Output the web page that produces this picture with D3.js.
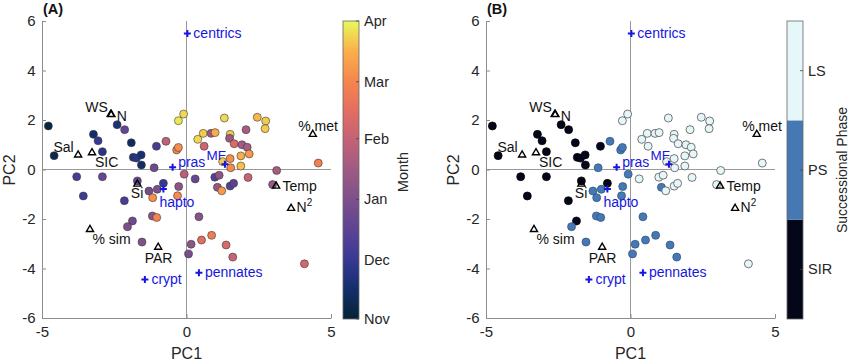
<!DOCTYPE html>
<html lang="en">
<head>
<meta charset="UTF-8">
<title>PCA biplot: month and successional phase</title>
<script src="https://d3js.org/d3.v7.min.js"></script>
<style>
  body { margin: 0; background: #fff; }
  svg { display: block; font-family: "Liberation Sans", Arial, Helvetica, sans-serif; }
  .axis .tick text { font-size: 15px; fill: #262626; }
  .axis path, .axis line { stroke: #8c8c8c; }
</style>
</head>
<body>
<div id="chart"></div>
<script>
// sample scores (PC1, PC2), sampling date and successional phase
const pc1 = [-4.78, -4.58, -3.22, -3.06, -2.91, -2.40, -2.14, -1.91, -1.84, -1.73,
             -1.57, -1.56, -1.04, -3.80, -2.91, -3.57, -2.15, -1.70, -0.80, -1.87,
             -0.71, -1.12, -0.34, -0.28, -0.08, -1.30, -1.01, -1.17, -0.27, -0.31,
             -2.04, -1.18, -1.03, -1.54, 0.43, 0.16, 0.07, 0.52, 0.87, 1.37,
             1.60, 1.07, -0.28, -0.10, 0.30, 0.39, 0.58, 0.85, 0.99, 0.61,
             1.31, 2.45, 2.74, 2.72, 2.06, 1.51, 1.49, 1.65, 1.92, 2.10,
             1.88, 2.17, 1.51, 1.25, 1.53, 1.88, 3.12, 4.56, 0.98, 1.13,
             1.22, 1.51, 1.63, 2.13, 2.98, 4.08];
const pc2 = [1.76, 0.56, 1.42, 1.16, 0.72, 1.81, 1.61, 1.08, 0.49, 0.46,
             0.59, 0.18, 0.94, -0.29, -0.29, -1.07, -1.26, -0.46, -0.56, -2.08,
             1.14, 0.07, 0.79, 0.89, -0.19, -0.87, -0.80, -1.14, -0.69, -1.06,
             -2.31, -1.88, -1.94, -2.93, -1.91, -3.02, -3.41, -2.85, -2.66, -3.05,
             -3.54, -0.72, 1.97, 2.24, -0.38, 1.22, 1.46, 1.46, 1.49, 0.94,
             2.08, 2.11, 1.96, 1.65, 1.61, 1.42, 1.26, 1.04, 1.00, 0.90,
             0.55, 0.63, 0.44, 0.32, 0.07, 0.14, -0.04, 0.26, -0.31, -0.23,
             -0.86, -0.67, -0.56, -0.32, -0.61, -3.81];
const sampleDate = ["2015-11-05", "2015-11-08", "2015-11-15", "2015-12-01", "2015-11-25", "2015-11-20", "2015-12-20", "2015-11-12", "2015-11-22", "2015-11-26",
                    "2015-11-18", "2015-11-14", "2015-12-08", "2015-12-08", "2015-12-20", "2015-12-05", "2015-12-08", "2015-12-22", "2015-12-01", "2015-12-25",
                    "2016-01-30", "2015-12-25", "2016-03-01", "2016-03-05", "2016-01-28", "2015-12-28", "2016-01-01", "2016-03-05", "2016-01-08", "2016-03-03",
                    "2016-01-01", "2016-01-08", "2016-03-01", "2016-01-03", "2016-01-06", "2016-01-08", "2015-12-30", "2016-02-15", "2016-02-25", "2016-02-10",
                    "2016-02-03", "2016-01-12", "2016-03-28", "2016-03-25", "2015-12-22", "2016-03-25", "2016-03-22", "2016-01-15", "2016-03-15", "2016-02-05",
                    "2016-03-25", "2016-03-18", "2016-03-22", "2016-03-22", "2016-01-20", "2016-03-22", "2016-01-14", "2016-02-12", "2016-01-18", "2016-01-20",
                    "2016-03-15", "2016-03-08", "2016-03-05", "2016-03-22", "2016-03-03", "2016-03-20", "2016-01-20", "2016-02-28", "2015-12-12", "2016-01-08",
                    "2016-03-08", "2015-12-12", "2015-12-15", "2016-02-03", "2016-01-14", "2016-02-08"];
const phase = ["SIR", "SIR", "SIR", "SIR", "SIR", "SIR", "SIR", "SIR", "SIR", "SIR",
               "SIR", "SIR", "SIR", "SIR", "SIR", "SIR", "SIR", "SIR", "SIR", "SIR",
               "PS", "PS", "PS", "PS", "PS", "PS", "PS", "PS", "PS", "PS",
               "PS", "PS", "PS", "PS", "PS", "PS", "PS", "PS", "PS", "PS",
               "PS", "PS", "LS", "LS", "LS", "LS", "LS", "LS", "LS", "LS",
               "LS", "LS", "LS", "LS", "LS", "LS", "LS", "LS", "LS", "LS",
               "LS", "LS", "LS", "LS", "LS", "LS", "LS", "LS", "LS", "LS",
               "LS", "LS", "LS", "LS", "LS", "LS"];

// environmental variables (triangles)
const varNames = ["WS", "N", "Sal", "SIC", "Si", "% sim", "PAR", "% met", "Temp", "N2"];
const varPC1 = [-2.62, -2.60, -3.75, -3.27, -1.70, -3.34, -0.98, 4.37, 3.10, 3.62];
const varPC2 = [2.23, 2.22, 0.59, 0.68, -0.59, -2.42, -3.14, 1.42, -0.67, -1.57];

// phytoplankton groups (blue crosses)
const sppNames = ["centrics", "pras", "MF", "hapto", "crypt", "pennates"];
const sppPC1 = [0.03, -0.48, 1.33, -0.80, -1.44, 0.43];
const sppPC2 = [5.50, 0.09, 0.21, -0.79, -4.44, -4.17];

// axis ticks and colorbar ticks
const xTicks = [-5, 0, 5];
const yTicks = [-6, -4, -2, 0, 2, 4, 6];
const monthTicks = ["2015-11-01", "2015-12-01", "2016-01-01", "2016-02-01", "2016-03-01", "2016-04-01"];
const monthLabels = ["Nov", "Dec", "Jan", "Feb", "Mar", "Apr"];
const phaseLabels = ["SIR", "PS", "LS"];

// label placement next to markers: [dx, dy, anchor]
const labelPos = {
  "WS": [-3, -2.5, "end"], "N": [5.5, 6.5, "start"], "Sal": [-4.5, -3.3, "end"],
  "SIC": [3, 14, "start"], "Si": [-6.5, 14.3, "start"], "% sim": [2.5, 14.7, "start"],
  "PAR": [-13.5, 15.4, "start"], "% met": [-14.5, -3.6, "start"], "Temp": [6.5, 4.8, "start"],
  "N2": [5.5, 3.4, "start"],
  "centrics": [6, 5, "start"], "pras": [5.5, 0, "start"], "MF": [-18.5, -4.3, "start"],
  "hapto": [-4, 18, "start"], "crypt": [6.5, 4.5, "start"], "pennates": [6, 4, "start"]
};

const parse = d3.timeParse("%Y-%m-%d");
const samples = pc1.map((v, i) => ({ x: v, y: pc2[i], date: parse(sampleDate[i]), phase: phase[i] }));
const vars = varNames.map((n, i) => ({ name: n, x: varPC1[i], y: varPC2[i] }));
const spp = sppNames.map((n, i) => ({ name: n, x: sppPC1[i], y: sppPC2[i] }));

// cmocean "thermal"-like colormap
const thermal = d3.piecewise(d3.interpolateRgb, ["#042333", "#142e6c", "#383894", "#5d4394", "#7d4f8c",
  "#9e5a84", "#c36276", "#e36e61", "#f6864d", "#fab04a", "#e8fa5b"]);
const monthT = d3.scaleTime().domain([parse(monthTicks[0]), parse(monthTicks[5])]).range([0, 1]).clamp(true);

const phaseFill = { SIR: "#04071a", PS: "#4679b4", LS: "#e6f7fa" };
const phaseStroke = { SIR: "#000", PS: "#2e4f78", LS: "#555" };

const W = 850, H = 362;
const plotTop = 21, plotBottom = 318, cbBottom = 319;
const blue = "#1616e0";

const svg = d3.select("#chart").append("svg").attr("width", W).attr("height", H);

const defs = svg.append("defs");
const grad = defs.append("linearGradient").attr("id", "thermalGrad")
  .attr("x1", 0).attr("y1", 1).attr("x2", 0).attr("y2", 0);
d3.range(0, 1.0001, 0.05).forEach(t => {
  grad.append("stop").attr("offset", t).attr("stop-color", thermal(t));
});

function drawPanel(p) {
  const g = svg.append("g");
  const x = d3.scaleLinear().domain([-5, 5]).range([p.left, p.left + 289]);
  const y = d3.scaleLinear().domain([-6, 6]).range([plotBottom, plotTop]);

  // zero lines
  g.append("line").attr("x1", x(-5)).attr("x2", x(5)).attr("y1", y(0)).attr("y2", y(0))
    .attr("stroke", "#999").attr("stroke-width", 1);
  g.append("line").attr("x1", x(0)).attr("x2", x(0)).attr("y1", y(-6)).attr("y2", y(6))
    .attr("stroke", "#999").attr("stroke-width", 1);

  const xAxis = g.append("g").attr("class", "axis")
    .attr("transform", `translate(0,${y(-6)})`)
    .call(d3.axisBottom(x).tickValues(xTicks).tickSizeInner(-4).tickSizeOuter(0).tickPadding(8).tickFormat(d => String(d)));
  const yAxis = g.append("g").attr("class", "axis")
    .attr("transform", `translate(${x(-5)},0)`)
    .call(d3.axisLeft(y).tickValues(yTicks).tickSizeInner(-4).tickSizeOuter(0).tickPadding(6.5).tickFormat(d => String(d)));
  [xAxis, yAxis].forEach(a => a.attr("font-family", null).attr("font-size", null));

  g.append("text").attr("x", x(0)).attr("y", 359).attr("text-anchor", "middle")
    .attr("font-size", 16).attr("fill", "#262626").text("PC1");
  g.append("text").attr("transform", `translate(${x(-5) - 27},170) rotate(-90)`)
    .attr("text-anchor", "middle").attr("font-size", 16).attr("fill", "#262626").text("PC2");
  g.append("text").attr("x", x(-5) + 1).attr("y", 14).attr("font-size", 14.5)
    .attr("font-weight", "bold").attr("fill", "#111").text(p.tag);

  // samples
  g.selectAll("circle.sample").data(samples).enter().append("circle")
    .attr("class", "sample")
    .attr("cx", d => x(d.x)).attr("cy", d => y(d.y)).attr("r", 4)
    .attr("fill", p.fill).attr("stroke", p.stroke).attr("stroke-width", p.sw);

  // environmental variables
  const tri = d3.symbol().type(d3.symbolTriangle).size(22);
  g.selectAll("path.var").data(vars).enter().append("path")
    .attr("class", "var").attr("d", tri)
    .attr("transform", d => `translate(${x(d.x)},${y(d.y)})`)
    .attr("fill", "none").attr("stroke", "#000").attr("stroke-width", 1.4);
  const vt = g.selectAll("text.var").data(vars).enter().append("text")
    .attr("class", "var")
    .attr("x", d => x(d.x) + labelPos[d.name][0])
    .attr("y", d => y(d.y) + labelPos[d.name][1])
    .attr("text-anchor", d => labelPos[d.name][2])
    .attr("font-size", 14).attr("fill", "#111")
    .style("white-space", "pre");
  vt.each(function(d) {
    const t = d3.select(this);
    if (d.name === "N2") {
      t.append("tspan").text("N");
      t.append("tspan").attr("dy", -6).attr("font-size", 10).text("2");
    } else {
      t.text(d.name);
    }
  });

  // phytoplankton groups
  g.selectAll("path.spp").data(spp).enter().append("path")
    .attr("class", "spp")
    .attr("d", "M-3.5,0H3.5M0,-3.5V3.5")
    .attr("transform", d => `translate(${x(d.x)},${y(d.y)})`)
    .attr("stroke", blue).attr("stroke-width", 2).attr("fill", "none");
  g.selectAll("text.spp").data(spp).enter().append("text")
    .attr("class", "spp")
    .attr("x", d => x(d.x) + labelPos[d.name][0])
    .attr("y", d => y(d.y) + labelPos[d.name][1])
    .attr("text-anchor", d => labelPos[d.name][2])
    .attr("font-size", d => d.name === "MF" ? 13.5 : 14).attr("fill", blue)
    .text(d => d.name);
}

drawPanel({ left: 42, tag: "(A)", fill: d => thermal(monthT(d.date)), stroke: "#3a3a3a", sw: 0.6 });
drawPanel({ left: 486, tag: "(B)", fill: d => phaseFill[d.phase], stroke: d => phaseStroke[d.phase], sw: d => d.phase === "LS" ? 0.8 : 0.7 });

// colorbar A: month
const cbA = svg.append("g");
const cbW = 16;
const cbAx = 343;
const dateY = d3.scaleTime().domain([parse(monthTicks[0]), parse(monthTicks[5])]).range([cbBottom, plotTop]);
cbA.append("rect").attr("x", cbAx).attr("y", plotTop).attr("width", cbW).attr("height", cbBottom - plotTop)
  .attr("fill", "url(#thermalGrad)").attr("stroke", "#666").attr("stroke-width", 0.8);
monthTicks.forEach((m, i) => {
  const yy = dateY(parse(m));
  cbA.append("line").attr("x1", cbAx + cbW - 3).attr("x2", cbAx + cbW).attr("y1", yy).attr("y2", yy)
    .attr("stroke", "#444").attr("stroke-width", 0.8);
  cbA.append("text").attr("x", cbAx + cbW + 5).attr("y", yy).attr("dy", "0.35em")
    .attr("font-size", 14.5).attr("fill", "#262626").text(monthLabels[i]);
});
cbA.append("text").attr("transform", "translate(408,172) rotate(-90)").attr("text-anchor", "middle")
  .attr("font-size", 14.5).attr("fill", "#262626").text("Month");

// colorbar B: successional phase (SIR at the bottom)
const cbB = svg.append("g");
const cbBx = 787;
const phaseY = d3.scaleBand().domain(phaseLabels.slice().reverse()).range([plotTop, cbBottom]);
cbB.selectAll("rect.seg").data(phaseLabels).enter().append("rect")
  .attr("class", "seg")
  .attr("x", cbBx).attr("y", d => phaseY(d)).attr("width", cbW)
  .attr("height", phaseY.bandwidth()).attr("fill", d => phaseFill[d]);
cbB.append("rect").attr("x", cbBx).attr("y", plotTop).attr("width", cbW).attr("height", cbBottom - plotTop)
  .attr("fill", "none").attr("stroke", "#666").attr("stroke-width", 0.8);
phaseLabels.forEach(ph => {
  const yy = phaseY(ph) + phaseY.bandwidth() / 2;
  cbB.append("line").attr("x1", cbBx + cbW - 3).attr("x2", cbBx + cbW).attr("y1", yy).attr("y2", yy)
    .attr("stroke", "#444").attr("stroke-width", 0.8);
  cbB.append("text").attr("x", cbBx + cbW + 5).attr("y", yy).attr("dy", "0.35em")
    .attr("font-size", 14.5).attr("fill", "#262626").text(ph);
});
cbB.append("text").attr("transform", "translate(847,170) rotate(-90)").attr("text-anchor", "middle")
  .attr("font-size", 14).attr("fill", "#262626").text("Successional Phase");
</script>
</body>
</html>
